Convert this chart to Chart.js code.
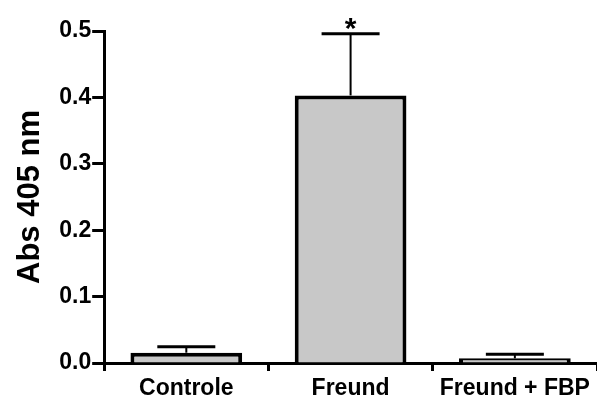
<!DOCTYPE html>
<html>
<head>
<meta charset="utf-8">
<script src="https://cdn.jsdelivr.net/npm/chart.js@4/dist/chart.umd.min.js"></script>
<style>
  html, body { margin: 0; padding: 0; background: #fff; }
  #wrap { width: 597px; height: 400px; }
</style>
</head>
<body>
<div id="wrap"><canvas id="chart"></canvas></div>
<script>
const categories = ['Controle', 'Freund', 'Freund + FBP'];
const means = [0.0155, 0.403, 0.007];
const errors = [0.009, 0.093, 0.006];
const marks = ['', '*', ''];
const yTicks = [0.0, 0.1, 0.2, 0.3, 0.4, 0.5];

const FONT = '"Liberation Sans", Arial, sans-serif';

// error bars + significance mark, drawn through the chart's scales
const errorBars = {
    id: 'errorBars',
    afterDatasetsDraw(chart) {
        const c = chart.ctx;
        const x = chart.scales.x, y = chart.scales.y;
        c.save();
        c.strokeStyle = '#000';
        means.forEach((m, i) => {
            const cx = x.getPixelForValue(i);
            const yTop = y.getPixelForValue(m + errors[i]);
            const yBar = y.getPixelForValue(m);
            c.lineWidth = 2;
            c.beginPath();
            c.moveTo(cx, yBar);
            c.lineTo(cx, yTop);
            c.stroke();
            c.lineWidth = 3;
            c.beginPath();
            c.moveTo(cx - 29, yTop);
            c.lineTo(cx + 29, yTop);
            c.stroke();
            if (marks[i]) {
                c.fillStyle = '#000';
                c.font = 'bold 30px ' + FONT;
                c.textAlign = 'center';
                c.textBaseline = 'alphabetic';
                c.fillText(marks[i], cx, yTop + 4);
            }
        });
        c.restore();
    }
};

new Chart(document.getElementById('chart').getContext('2d'), {
    type: 'bar',
    data: {
        labels: categories,
        datasets: [{
            data: means,
            backgroundColor: '#c8c8c8',
            borderColor: '#000',
            borderWidth: 4,
            borderSkipped: 'bottom',
            categoryPercentage: 1,
            barPercentage: 0.68
        }]
    },
    options: {
        responsive: true,
        maintainAspectRatio: false,
        animation: false,
        devicePixelRatio: 1,
        layout: { padding: { top: 31, right: 0, left: 12, bottom: 0 } },
        plugins: { legend: { display: false }, tooltip: { enabled: false } },
        scales: {
            x: {
                afterFit: s => { s.height = 37; },
                grid: { display: true, drawOnChartArea: false, tickLength: 8, tickWidth: 3, tickColor: '#000' },
                border: { color: '#000', width: 3 },
                ticks: {
                    color: '#000',
                    padding: 5,
                    font: { family: FONT, size: 23, weight: 'bold', lineHeight: 1.1 }
                }
            },
            y: {
                min: 0,
                max: 0.5,
                afterBuildTicks: axis => { axis.ticks = yTicks.map(v => ({ value: v })); },
                grid: { display: true, drawOnChartArea: false, tickLength: 12, tickWidth: 3, tickColor: '#000' },
                border: { color: '#000', width: 3 },
                ticks: {
                    color: '#000',
                    padding: 1,
                    callback: v => Number(v).toFixed(1),
                    font: { family: FONT, size: 23, weight: 'bold' }
                },
                title: {
                    display: true,
                    text: 'Abs 405 nm',
                    color: '#000',
                    padding: { top: 0, bottom: 9 },
                    font: { family: FONT, size: 31, weight: 'bold' }
                }
            }
        }
    },
    plugins: [errorBars]
});
</script>
</body>
</html>
